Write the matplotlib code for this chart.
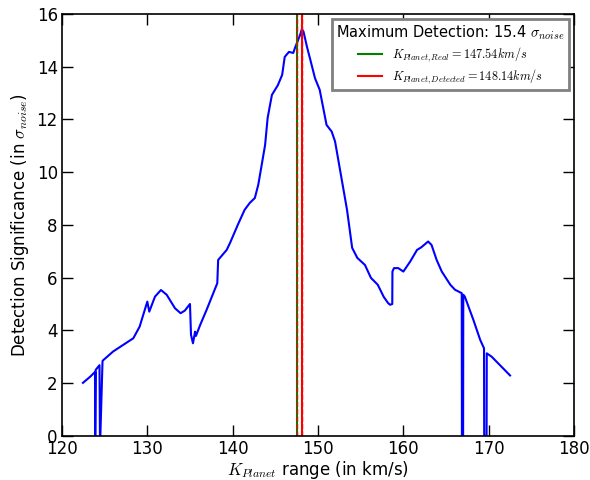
import numpy as np
import matplotlib
matplotlib.use('Agg')
import matplotlib.pyplot as plt

plt.rcParams['mathtext.fontset'] = 'cm'
plt.rcParams['font.family'] = 'DejaVu Sans'

# detection significance curve (vertical drops are repeated x values)
k_planet = [122.46, 123.3, 123.9, 123.9, 123.95, 124.4, 124.45, 124.5, 124.75, 124.77,
            126.0, 128.36, 129.1, 130.0, 130.23, 130.9, 131.6, 132.27, 133.24, 133.9,
            134.4, 135.0, 135.12, 135.35, 135.6, 135.7, 136.2, 136.95, 138.2, 138.3,
            139.3, 139.7, 140.6, 141.4, 142.0, 142.6, 143.0, 143.4, 143.8, 144.1,
            144.6, 145.3, 145.8, 146.1, 146.6, 147.1, 147.3, 147.9, 148.1, 148.3,
            148.7, 149.1, 149.65, 150.2, 151.0, 151.6, 152.0, 153.4, 154.0, 154.6,
            155.5, 156.2, 157.0, 157.7, 158.2, 158.44, 158.7, 158.72, 158.9, 159.4,
            160.0, 160.8, 161.6, 162.1, 162.9, 163.3, 163.9, 164.5, 165.5, 166.05,
            166.84, 166.86, 167.0, 167.02, 167.2, 168.2, 169.0, 169.45, 169.47, 169.75,
            169.77, 170.35, 172.5]
significance = [2.01, 2.24, 2.43, 0.0, 2.5, 2.68, 0.0, 0.0, 2.8, 2.85,
                3.2, 3.70, 4.14, 5.09, 4.71, 5.28, 5.53, 5.35, 4.84, 4.65,
                4.75, 5.0, 3.83, 3.51, 3.95, 3.79, 4.21, 4.78, 5.79, 6.67,
                7.05, 7.32, 8.0, 8.57, 8.83, 9.02, 9.52, 10.27, 11.03, 12.06,
                12.93, 13.3, 13.69, 14.37, 14.56, 14.52, 14.71, 15.2, 15.42, 15.33,
                14.76, 14.26, 13.56, 13.12, 11.79, 11.54, 11.16, 8.57, 7.13, 6.75,
                6.48, 5.99, 5.73, 5.27, 5.04, 4.97, 5.0, 6.23, 6.36, 6.36,
                6.23, 6.61, 7.05, 7.15, 7.37, 7.24, 6.67, 6.23, 5.73, 5.54,
                5.41, 0.0, 0.0, 5.35, 5.28, 4.4, 3.64, 3.32, 0.0, 0.0,
                3.13, 3.0, 2.29]

k_real = 147.54
k_detected = 148.14
max_detection = 15.4

fig = plt.figure(figsize=(5.9, 4.8), dpi=100, facecolor='white')
ax = fig.add_axes([0.105, 0.092, 0.868, 0.879])

ax.plot(k_planet, significance, color='blue', lw=1.5)
ax.axvline(k_real, color='green', lw=1.5,
           label=r'$K_{Planet,Real}=147.54km/s$')
ax.axvline(k_real, color='red', lw=1.0, ls='--')
ax.axvline(k_detected, color='red', lw=1.5,
           label=r'$K_{Planet,Detected}=148.14km/s$')
ax.axvline(k_detected, color='red', lw=1.0, ls='--')

ax.set_xlim(120, 180)
ax.set_ylim(0, 16)
ax.set_xticks(np.arange(120, 181, 10))
ax.set_yticks(np.arange(0, 17, 2))
ax.tick_params(direction='in', top=True, right=True, labelsize=12, length=8, width=1, pad=3)
for s in ax.spines.values():
    s.set_linewidth(1.2)

ax.set_xlabel(r'$K_{Planet}$ range (in km/s)', fontsize=12, labelpad=1)
ax.set_ylabel(r'Detection Significance (in $\sigma_{noise}$)', fontsize=12, labelpad=4)

leg = ax.legend(loc='upper right', fontsize=8.8,
                title=r'Maximum Detection: %.1f $\sigma_{noise}$' % max_detection,
                title_fontsize=10.5, fancybox=False, framealpha=1.0,
                borderaxespad=0.4, borderpad=0.35, handlelength=2.0,
                handletextpad=0.8, labelspacing=0.3)
leg.get_frame().set_edgecolor('0.5')
leg.get_frame().set_linewidth(2)

fig.savefig('out.png', dpi=100, facecolor='white')
